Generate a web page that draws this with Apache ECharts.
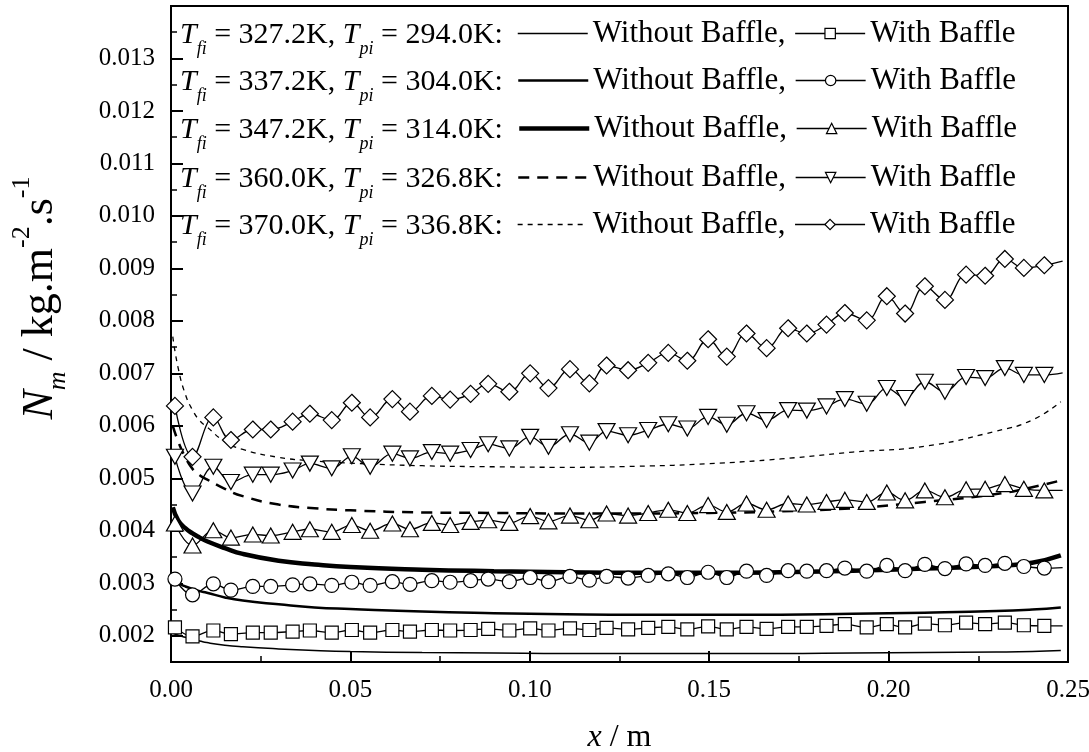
<!DOCTYPE html>
<html>
<head>
<meta charset="utf-8">
<script src="https://cdn.jsdelivr.net/npm/echarts@6/dist/echarts.min.js"></script>
<style>
html, body { margin: 0; padding: 0; background: #fff; }
#main { width: 1089px; height: 752px; }
</style>
</head>
<body>
<div id="main"></div>
<script>
// legend temperatures
var tfi = ['327.2', '337.2', '347.2', '360.0', '370.0'];
var tpi = ['294.0', '304.0', '314.0', '326.8', '336.8'];

// without baffle curves (smooth, no markers)
var curveX = [0.0005, 0.002, 0.004, 0.006, 0.008, 0.01, 0.015, 0.02, 0.03, 0.04, 0.05, 0.07, 0.09, 0.11, 0.13, 0.15, 0.17, 0.19, 0.21, 0.23, 0.24, 0.248];
var noBaffle1 = [0.00205, 0.00201, 0.00197, 0.00193, 0.0019, 0.00187, 0.00182, 0.00179, 0.00175, 0.00172, 0.0017, 0.00168, 0.00167, 0.00166, 0.00166, 0.00166, 0.00166, 0.00167, 0.00168, 0.00169, 0.0017, 0.00172];
var noBaffle2 = [0.00305, 0.003, 0.00294, 0.00289, 0.00285, 0.00282, 0.00273, 0.00267, 0.0026, 0.00254, 0.00251, 0.00246, 0.00243, 0.00241, 0.0024, 0.0024, 0.0024, 0.00242, 0.00244, 0.00247, 0.0025, 0.00254];
var noBaffle3 = [0.00445, 0.0042, 0.00405, 0.00395, 0.00387, 0.0038, 0.00367, 0.00356, 0.00343, 0.00336, 0.00331, 0.00326, 0.00323, 0.00321, 0.0032, 0.0032, 0.00321, 0.00324, 0.00328, 0.00333, 0.00339, 0.00353];
var noBaffle4 = [0.006, 0.0057, 0.0054, 0.00518, 0.00506, 0.00498, 0.0048, 0.00466, 0.0045, 0.00443, 0.00439, 0.00435, 0.00434, 0.00433, 0.00433, 0.00434, 0.00437, 0.00443, 0.00455, 0.0047, 0.00483, 0.00496];
var noBaffle5 = [0.0077, 0.0071, 0.0066, 0.0063, 0.0061, 0.00598, 0.0057, 0.00555, 0.0054, 0.00533, 0.00529, 0.00524, 0.00522, 0.00521, 0.00523, 0.00528, 0.00537, 0.0055, 0.00561, 0.0059, 0.00611, 0.00646];

// with baffle series (markers)
var markerX = [0.0011, 0.0060, 0.0118, 0.0167, 0.0228, 0.0278, 0.0339, 0.0387, 0.0448, 0.0504, 0.0555, 0.0617, 0.0666, 0.0727, 0.0778, 0.0835, 0.0884, 0.0943, 0.1001, 0.1052, 0.1112, 0.1166, 0.1214, 0.1274, 0.1330, 0.1386, 0.1439, 0.1497, 0.1549, 0.1604, 0.1660, 0.1720, 0.1772, 0.1827, 0.1878, 0.1939, 0.1995, 0.2046, 0.2101, 0.2157, 0.2216, 0.2269, 0.2324, 0.2377, 0.2434];
var baffle1 = [0.00216, 0.00199, 0.0021, 0.00203, 0.00206, 0.00206, 0.00208, 0.0021, 0.00206, 0.00211, 0.00206, 0.00211, 0.00208, 0.00211, 0.0021, 0.00211, 0.00213, 0.0021, 0.00214, 0.0021, 0.00214, 0.00211,
  0.00215, 0.00212, 0.00215, 0.00217, 0.00212, 0.00218, 0.00212, 0.00217, 0.00213, 0.00217, 0.00217, 0.00219, 0.00222, 0.00216, 0.00222, 0.00216, 0.00223, 0.0022, 0.00225, 0.00222, 0.00225, 0.0022, 0.00219];
var baffle2 = [0.00308, 0.00278, 0.00299, 0.00287, 0.00294, 0.00294, 0.00297, 0.00299, 0.00296, 0.00302, 0.00296, 0.00303, 0.00298, 0.00305, 0.00302, 0.00305, 0.00308, 0.00303, 0.00311, 0.00303, 0.00313, 0.00306,
  0.00313, 0.0031, 0.00315, 0.00318, 0.00311, 0.00321, 0.00311, 0.00323, 0.00315, 0.00324, 0.00323, 0.00324, 0.00329, 0.00323, 0.00334, 0.00324, 0.00336, 0.00328, 0.00337, 0.00334, 0.00338, 0.00332, 0.00329];
var baffle3 = [0.00414, 0.00372, 0.00401, 0.00387, 0.00393, 0.00391, 0.00398, 0.00403, 0.00398, 0.00411, 0.004, 0.00414, 0.00403, 0.00415, 0.00411, 0.00417, 0.0042, 0.00415, 0.00428, 0.00418, 0.00429, 0.0042,
  0.00433, 0.00429, 0.00434, 0.0044, 0.00434, 0.00449, 0.00436, 0.00452, 0.0044, 0.00452, 0.0045, 0.00455, 0.00459, 0.00455, 0.00473, 0.00458, 0.00477, 0.00464, 0.00479, 0.0048, 0.00489, 0.0048, 0.00477];
var baffle4 = [0.00541, 0.00471, 0.00522, 0.00493, 0.00507, 0.00507, 0.00515, 0.00528, 0.00519, 0.00542, 0.00522, 0.00547, 0.00538, 0.0055, 0.00547, 0.00554, 0.00565, 0.00557, 0.00579, 0.0056, 0.00584, 0.00568,
  0.0059, 0.00582, 0.00592, 0.00603, 0.00595, 0.00617, 0.00602, 0.00624, 0.00611, 0.0063, 0.00629, 0.00637, 0.00651, 0.00642, 0.00672, 0.00653, 0.00684, 0.00665, 0.00693, 0.00691, 0.0071, 0.00697, 0.00697];
var baffle5 = [0.00638, 0.00541, 0.00616, 0.00573, 0.00593, 0.00593, 0.00608, 0.00623, 0.00611, 0.00644, 0.00616, 0.00651, 0.00627, 0.00657, 0.0065, 0.00661, 0.0068, 0.00665, 0.007, 0.00672, 0.00708, 0.00681,
  0.00715, 0.00706, 0.0072, 0.00739, 0.00724, 0.00765, 0.00732, 0.00776, 0.00748, 0.00786, 0.00776, 0.00793, 0.00815, 0.00801, 0.00847, 0.00814, 0.00866, 0.0084, 0.00888, 0.00886, 0.00918, 0.00901, 0.00906];
// line runs on past the last marker to the right edge
var tailX = 0.2485;
var tailY = [0.00219, 0.0033, 0.00477, 0.00701, 0.00914];

// y ticks
var yTicks = [0.002, 0.003, 0.004, 0.005, 0.006, 0.007, 0.008, 0.009, 0.010, 0.011, 0.012, 0.013];
var yMinorTicks = [0.0015, 0.0025, 0.0035, 0.0045, 0.0055, 0.0065, 0.0075, 0.0085, 0.0095, 0.0105, 0.0115, 0.0125, 0.0135];

var FONT = 'Liberation Serif';
var noBaffle = [noBaffle1, noBaffle2, noBaffle3, noBaffle4, noBaffle5];
var withBaffle = [baffle1, baffle2, baffle3, baffle4, baffle5];
var lineWidths = [1.5, 2.5, 4.5, 2.5, 1.3];
var lineTypes = ['solid', 'solid', 'solid', [11, 8], [5, 5]];
var symbols = ['rect', 'circle', 'triangle', 'triangle', 'diamond'];
var symbolSizes = [13, 14, [17, 15], [17, 15], [17, 17]];
var symbolRotates = [0, 0, 0, 180, 0];
var rowY = [33, 80, 128, 177, 224];

var series = [];
noBaffle.forEach(function (ys, k) {
    series.push({
        name: 'without-' + k, type: 'line', smooth: true, symbol: 'none', z: 2,
        data: curveX.map(function (x, i) { return [x, ys[i]]; }),
        lineStyle: { color: '#000', width: lineWidths[k], type: lineTypes[k] },
        itemStyle: { color: '#000' }
    });
});
withBaffle.forEach(function (ys, k) {
    var data = markerX.map(function (x, i) { return [x, ys[i]]; });
    data.push({ value: [tailX, tailY[k]], symbol: 'none' });
    series.push({
        name: 'with-' + k, type: 'line', smooth: 0.4, z: 3,
        symbol: symbols[k], symbolSize: symbolSizes[k], symbolRotate: symbolRotates[k], showAllSymbol: true,
        data: data,
        lineStyle: { color: '#000', width: 1.3 },
        itemStyle: { color: '#fff', borderColor: '#000', borderWidth: 1.2 }
    });
});

var legends = rowY.map(function (cy, k) {
    return {
        top: cy - 15, left: 517, padding: 0, itemWidth: 70, itemHeight: 13, itemGap: 9,
        selectedMode: false,
        textStyle: { fontSize: 31, fontFamily: FONT, color: '#000' },
        itemStyle: { color: '#fff', borderColor: '#000', borderWidth: 1.2 },
        formatter: function (name) { return name.indexOf('without') === 0 ? 'Without Baffle,' : 'With Baffle'; },
        data: [
            { name: 'without-' + k, itemStyle: { opacity: 0 }, lineStyle: { color: '#000', width: lineWidths[k], type: lineTypes[k] } },
            { name: 'with-' + k, lineStyle: { color: '#000', width: 1.3, type: 'solid' } }
        ]
    };
});

// main text centred in a 46px line, subscripts pushed to the bottom of it
var prefixRich = {
    t: { fontFamily: FONT, fontStyle: 'italic', fontSize: 30, lineHeight: 46 },
    s: { fontFamily: FONT, fontStyle: 'italic', fontSize: 18, lineHeight: 18, verticalAlign: 'bottom' },
    n: { fontFamily: FONT, fontSize: 30, lineHeight: 46 }
};
var prefixes = rowY.map(function (cy, k) {
    return {
        type: 'text', left: 180, top: cy - 13,
        style: {
            text: '{t|T}{s|fi}{n| = ' + tfi[k] + 'K, }{t|T}{s|pi}{n| = ' + tpi[k] + 'K:}',
            rich: prefixRich, fill: '#000'
        }
    };
});

var chart = echarts.init(document.getElementById('main'));
chart.setOption({
    animation: false,
    backgroundColor: '#fff',
    textStyle: { fontFamily: FONT, color: '#000' },
    grid: { left: 171, right: 21, top: 6, bottom: 90, outerBoundsMode: 'none',
        show: true, borderColor: '#000', borderWidth: 2 },
    legend: legends,
    graphic: prefixes,
    xAxis: {
        type: 'value', min: 0, max: 0.25, interval: 0.05,
        axisLine: { lineStyle: { color: '#000', width: 2 } },
        axisTick: { inside: true, length: 11, lineStyle: { color: '#000', width: 2 } },
        minorTick: { show: true, splitNumber: 2, length: 6, lineStyle: { color: '#000', width: 1.5 } },
        splitLine: { show: false },
        axisLabel: { color: '#000', fontSize: 25, fontFamily: FONT, margin: 16,
            formatter: function (v) { return v.toFixed(2); } },
        name: '{i|x}{n| / m}', nameLocation: 'middle', nameGap: 60,
        nameTextStyle: { rich: {
            i: { fontFamily: FONT, fontStyle: 'italic', fontSize: 32, lineHeight: 32 },
            n: { fontFamily: FONT, fontSize: 32, lineHeight: 32 }
        } }
    },
    yAxis: [{
        type: 'value', min: 0.0015, max: 0.014,
        axisLine: { lineStyle: { color: '#000', width: 2 } },
        axisTick: { inside: true, length: 12, customValues: yTicks, lineStyle: { color: '#000', width: 2 } },
        splitLine: { show: false },
        axisLabel: { color: '#000', fontSize: 25, fontFamily: FONT, margin: 16, customValues: yTicks,
            formatter: function (v) { return v.toFixed(3); } },
        name: '{i|N}{sb|m}{n| / kg.m}{sp|-2}{n|.s}{sp|-1}', nameLocation: 'middle', nameRotate: 90, nameGap: 100,
        nameTextStyle: { padding: [0, 0, 0, 72], rich: {
            i: { fontFamily: FONT, fontStyle: 'italic', fontSize: 44, lineHeight: 62 },
            sb: { fontFamily: FONT, fontStyle: 'italic', fontSize: 26, lineHeight: 26, verticalAlign: 'bottom' },
            n: { fontFamily: FONT, fontSize: 44, lineHeight: 62 },
            sp: { fontFamily: FONT, fontSize: 26, lineHeight: 26, verticalAlign: 'top' }
        } }
    }, {
        type: 'value', min: 0.0015, max: 0.014, position: 'left',
        axisLine: { show: false },
        axisTick: { inside: true, length: 6, customValues: yMinorTicks, lineStyle: { color: '#000', width: 1.5 } },
        axisLabel: { show: false },
        splitLine: { show: false }
    }],
    series: series
});
</script>
</body>
</html>
